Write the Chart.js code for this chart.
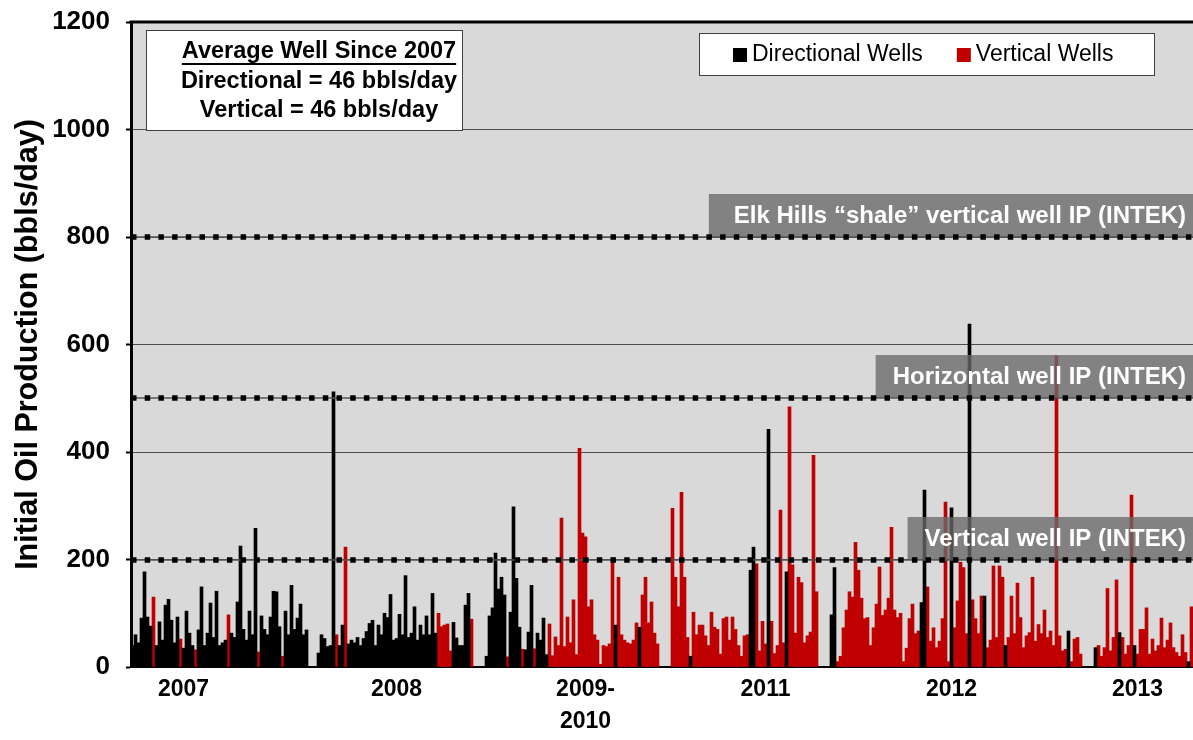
<!DOCTYPE html>
<html>
<head>
<meta charset="utf-8">
<script src="https://cdn.jsdelivr.net/npm/chart.js@4.4.1/dist/chart.umd.min.js"></script>
<style>
    html, body { margin: 0; padding: 0; background: #fff; }
</style>
</head>
<body>
<canvas id="chartWells" width="1193" height="740"></canvas>
<script>
// initial production per well slot (bbls/day), left to right
let ipValues = [
    40, 60, 45, 91, 177, 93, 76, 130, 40, 84,
    50, 115, 126, 87, 45, 93, 52, 35, 104, 63,
    40, 32, 69, 149, 40, 63, 119, 55, 141, 40,
    45, 50, 97, 63, 55, 121, 225, 70, 50, 104,
    60, 258, 28, 95, 70, 60, 93, 141, 140, 75,
    20, 104, 60, 152, 70, 91, 117, 60, 69, 0,
    0, 0, 26, 60, 53, 38, 40, 512, 60, 40,
    78, 223, 43, 50, 45, 55, 40, 53, 66, 81,
    87, 40, 78, 60, 100, 92, 135, 50, 53, 98,
    60, 170, 55, 63, 112, 50, 78, 60, 95, 60,
    137, 63, 100, 75, 78, 80, 30, 83, 54, 40,
    40, 115, 137, 89, 0, 0, 0, 0, 20, 95,
    110, 212, 145, 167, 134, 19, 102, 298, 165, 74,
    33, 32, 65, 152, 34, 63, 50, 91, 23, 80,
    21, 56, 40, 277, 38, 93, 45, 125, 23, 407,
    249, 242, 112, 125, 60, 50, 5, 40, 38, 43,
    203, 78, 167, 60, 50, 45, 43, 50, 82, 74,
    134, 167, 82, 121, 63, 43, 0, 0, 0, 0,
    295, 167, 112, 325, 167, 55, 20, 102, 60, 78,
    78, 58, 40, 102, 74, 70, 24, 90, 93, 50,
    93, 70, 40, 20, 58, 60, 180, 223, 192, 30,
    85, 43, 442, 85, 25, 40, 292, 45, 177, 484,
    190, 63, 167, 157, 45, 58, 65, 394, 140, 0,
    0, 0, 0, 97, 185, 10, 20, 73, 106, 140,
    130, 232, 180, 128, 90, 92, 40, 73, 117, 186,
    96, 106, 128, 260, 106, 92, 100, 10, 35, 90,
    117, 62, 67, 120, 329, 149, 48, 73, 36, 48,
    90, 307, 10, 296, 73, 123, 195, 185, 62, 638,
    125, 90, 62, 132, 132, 36, 50, 188, 55, 188,
    167, 40, 55, 132, 62, 156, 92, 36, 58, 64,
    167, 48, 79, 62, 106, 55, 67, 40, 579, 58,
    30, 33, 67, 10, 52, 55, 24, 0, 0, 0,
    0, 36, 40, 20, 36, 146, 30, 55, 162, 64,
    55, 24, 40, 320, 40, 24, 70, 70, 110, 24,
    52, 30, 40, 91, 36, 50, 82, 36, 27, 20,
    60, 27, 10, 112
];

// D = directional well, V = vertical well, - = no well
let wellKind =
    "DDDDDDDVDD" + "DDDDDDVDDD" + "DVDDDDDDDD" + "DDVDDDDDDD" + "DDVDDDDDDD" +
    "VDDDDDDDD-" + "--DDDDDDVD" + "DVDDDDDDDD" + "DDDDDDDDDD" + "DDDDDDDDDD" +
    "DDVVVVVDDD" + "DDDV----DD" + "DDDDDVDDDD" + "VDDDVDDDDV" + "VVVVVVVVVV" +
    "VVVVVVVVVV" + "VDVVVVVVVD" + "VVVVVV----" + "VVVVVVDVVV" + "VVVVVVVVVV" +
    "VVVVVVDDVV" + "VVDVVVVVDV" + "VVVVVVVVV-" + "---DDVVVVV" + "VVVVVVVVVV" +
    "VVVVVVVVVV" + "VVVDDVVVVV" + "VVVDVVVVVD" + "VVVVDVVVVV" + "VDVVVVVVVV" +
    "VVVVVVVVVV" + "VVDVVVV---" + "-DVVVVVVVD" + "VVVVDVVVVV" + "VVVVVVVVVV" +
    "VVDV";

let yearTicks = ["2007", "2008", ["2009-", "2010"], "2011", "2012", "2013"];
let yearTickSlot = [17, 88, 151, 211, 273, 335];

let refValues = [800, 500, 200];
let refLabels = ["Elk Hills \u201cshale\u201d vertical well IP (INTEK)", "Horizontal well IP (INTEK)", "Vertical well IP (INTEK)"];

let statTitle = "Average Well Since 2007";
let statLines = ["Directional = 46 bbls/day", "Vertical = 46 bbls/day"];

const FONT = '"Liberation Sans", Arial, sans-serif';

let labels = ipValues.map(() => "");
yearTickSlot.forEach((slot, i) => labels[slot] = yearTicks[i]);

let directional = ipValues.map((v, i) => wellKind[i] === "D" ? v : null);
let vertical = ipValues.map((v, i) => wellKind[i] === "V" ? v : null);

const plotBackground = {
    id: "plotBackground",
    beforeDraw(chart) {
        const {ctx, chartArea: a} = chart;
        ctx.save();
        ctx.fillStyle = "#d9d9d9";
        ctx.fillRect(a.left, a.top, a.right - a.left, a.bottom - a.top);
        ctx.restore();
    }
};

const referenceLines = {
    id: "referenceLines",
    afterDatasetsDraw(chart) {
        const {ctx, chartArea: a, scales: {y}} = chart;
        ctx.save();
        refValues.forEach((v, i) => {
            const py = Math.round(y.getPixelForValue(v));
            // shaded label box
            ctx.font = "bold 24px " + FONT;
            const w = ctx.measureText(refLabels[i]).width;
            const boxLeft = a.right - 7 - w - (i === 0 ? 25 : 17);
            ctx.fillStyle = "rgba(105,105,105,0.78)";
            ctx.fillRect(boxLeft, py - 43, a.right - boxLeft, 43);
            ctx.fillStyle = "#ffffff";
            ctx.textAlign = "right";
            ctx.textBaseline = "middle";
            ctx.fillText(refLabels[i], a.right - 7, py - 21);
            // thin line + square dots
            ctx.strokeStyle = "#555";
            ctx.lineWidth = 1.5;
            ctx.beginPath();
            ctx.moveTo(a.left, py);
            ctx.lineTo(a.right, py);
            ctx.stroke();
            ctx.strokeStyle = "#000";
            ctx.lineWidth = 5.5;
            ctx.setLineDash([5.5, 8.2]);
            ctx.beginPath();
            ctx.moveTo(a.left, py);
            ctx.lineTo(a.right, py);
            ctx.stroke();
            ctx.setLineDash([]);
        });
        ctx.restore();
    }
};

const boxes = {
    id: "boxes",
    afterDraw(chart) {
        const {ctx, chartArea: a} = chart;
        ctx.save();
        // top border of the plot
        ctx.fillStyle = "#000";
        ctx.fillRect(a.left - 1.5, a.top - 1.5, a.right - a.left + 1.5, 3);

        // stats box
        const sx = a.left + 15, sy = a.top + 8, sw = 316, sh = 100;
        ctx.fillStyle = "#fff";
        ctx.fillRect(sx, sy, sw, sh);
        ctx.strokeStyle = "#404040";
        ctx.lineWidth = 1;
        ctx.strokeRect(sx + 0.5, sy + 0.5, sw, sh);
        ctx.fillStyle = "#000";
        ctx.font = "bold 23.5px " + FONT;
        ctx.textAlign = "center";
        ctx.textBaseline = "middle";
        const cx = sx + 173;
        ctx.fillText(statTitle, cx, sy + 22);
        const tw = ctx.measureText(statTitle).width;
        ctx.fillRect(cx - tw / 2, sy + 33, tw, 2);
        statLines.forEach((t, i) => ctx.fillText(t, cx, sy + 52 + i * 29));

        // legend box
        const ds = chart.data.datasets;
        ctx.font = "23px " + FONT;
        const lw = 455, lh = 42;
        const lx = a.right - 39 - lw, ly = a.top + 11;
        ctx.fillStyle = "#fff";
        ctx.fillRect(lx, ly, lw, lh);
        ctx.strokeStyle = "#404040";
        ctx.strokeRect(lx + 0.5, ly + 0.5, lw, lh);
        let x = lx + 34;
        ds.forEach(d => {
            ctx.fillStyle = d.backgroundColor;
            ctx.fillRect(x, ly + 15, 14, 14);
            ctx.fillStyle = "#000";
            ctx.textAlign = "left";
            ctx.fillText(d.label, x + 19, ly + 22);
            x += 19 + ctx.measureText(d.label).width + 34;
        });
        ctx.restore();
    }
};

new Chart(document.getElementById("chartWells").getContext("2d"), {
    type: "bar",
    data: {
        labels: labels,
        datasets: [{
            label: "Directional Wells",
            data: directional,
            backgroundColor: "#000000",
            grouped: false,
            barPercentage: 1,
            categoryPercentage: 1
        }, {
            label: "Vertical Wells",
            data: vertical,
            backgroundColor: "#c00000",
            grouped: false,
            barPercentage: 1,
            categoryPercentage: 1
        }]
    },
    options: {
        responsive: false,
        animation: false,
        devicePixelRatio: 1,
        layout: {padding: {top: 22, left: 0, right: 0, bottom: 0}},
        plugins: {legend: {display: false}, tooltip: {enabled: false}},
        scales: {
            x: {
                grid: {display: false, drawTicks: false},
                border: {display: true, color: "#000", width: 2},
                ticks: {
                    autoSkip: false,
                    maxRotation: 0,
                    padding: 7,
                    color: "#000",
                    font: {family: FONT, size: 23, weight: "bold", lineHeight: 1.38},
                    callback: (value, index) => labels[index]
                },
                afterFit: scale => {
                    scale.height = 73;
                    scale.paddingLeft = 0;
                    scale.paddingRight = 0;
                }
            },
            y: {
                min: 0,
                max: 1200,
                ticks: {
                    stepSize: 200,
                    padding: 16,
                    color: "#000",
                    font: {family: FONT, size: 26, weight: "bold"},
                    callback: value => String(value)
                },
                grid: {
                    color: "#4d4d4d",
                    lineWidth: 1,
                    tickLength: 5,
                    tickColor: "#000",
                    tickWidth: 2
                },
                border: {color: "#000", width: 3},
                title: {
                    display: true,
                    text: "Initial Oil Production (bbls/day)",
                    color: "#000",
                    padding: {top: 10, bottom: 0},
                    font: {family: FONT, size: 30.5, weight: "bold"}
                },
                afterFit: scale => {
                    scale.width = 131;
                    scale.paddingTop = 0;
                    scale.paddingBottom = 0;
                }
            }
        }
    },
    plugins: [plotBackground, referenceLines, boxes]
});
</script>
</body>
</html>
